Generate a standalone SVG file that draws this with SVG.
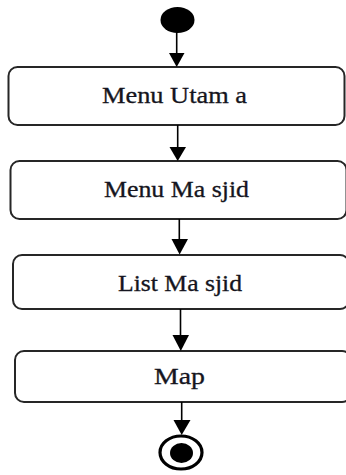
<svg xmlns="http://www.w3.org/2000/svg" width="346" height="475" viewBox="0 0 346 475">
  <style>
    .act { fill: #ffffff; stroke: #262626; stroke-width: 2; }
    .lbl { font-family: "Liberation Serif", "Times New Roman", serif; font-size: 23px; fill: #151520; stroke: #151520; stroke-width: 0.3; }
    .flow { stroke: #000000; stroke-width: 1.6; fill: none; }
    .head { fill: #000000; }
  </style>

  <!-- start node -->
  <g id="start">
    <ellipse cx="177.5" cy="20" rx="17" ry="13" fill="#000000"/>
  </g>

  <!-- activities -->
  <g id="menu-utama">
    <rect class="act" x="8.5" y="67" width="336" height="58" rx="9"/>
    <text class="lbl" x="102" y="103" textLength="145" lengthAdjust="spacingAndGlyphs">Menu Utam a</text>
  </g>
  <g id="menu-masjid">
    <rect class="act" x="10.5" y="161" width="336" height="58" rx="9"/>
    <text class="lbl" x="104" y="197" textLength="145" lengthAdjust="spacingAndGlyphs">Menu Ma sjid</text>
  </g>
  <g id="list-masjid">
    <rect class="act" x="13" y="255" width="336" height="54" rx="9"/>
    <text class="lbl" x="118" y="291" textLength="124" lengthAdjust="spacingAndGlyphs">List Ma sjid</text>
  </g>
  <g id="map">
    <rect class="act" x="15" y="351" width="336" height="51" rx="9"/>
    <text class="lbl" x="154" y="384" textLength="51" lengthAdjust="spacingAndGlyphs">Map</text>
  </g>

  <!-- end node -->
  <g id="end">
    <ellipse cx="181" cy="452.5" rx="21" ry="16.5" fill="none" stroke="#000000" stroke-width="3.2"/>
    <ellipse cx="181.5" cy="453" rx="11.5" ry="10" fill="#000000"/>
  </g>

  <!-- connectors -->
  <g id="connectors">
    <line class="flow" x1="176.7" y1="32" x2="176.7" y2="55"/>
    <polygon class="head" points="169,53 184.5,53 176.7,67"/>
    <line class="flow" x1="177.7" y1="125" x2="177.7" y2="149"/>
    <polygon class="head" points="169.5,147 186,147 177.7,161"/>
    <line class="flow" x1="179.3" y1="219" x2="179.3" y2="241"/>
    <polygon class="head" points="171.5,239 188,239 179.6,254.5"/>
    <line class="flow" x1="180.5" y1="309" x2="180.5" y2="337"/>
    <polygon class="head" points="172.5,335 189,335 180.8,351"/>
    <line class="flow" x1="181.7" y1="402" x2="181.7" y2="422"/>
    <polygon class="head" points="173.5,420 190.5,420 181.7,435"/>
  </g>
</svg>
